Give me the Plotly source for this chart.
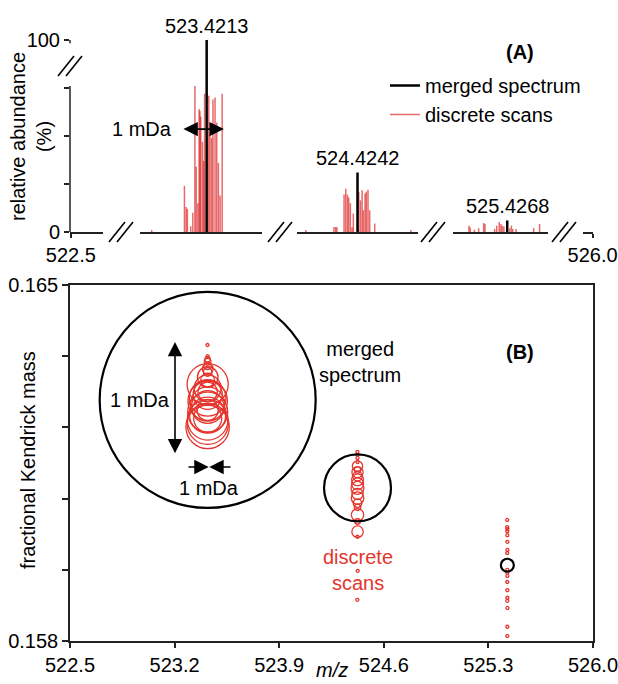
import plotly.graph_objects as go

# ---------------- data ----------------
merged_mz = [523.4213, 524.4242, 525.4268]
merged_abund = [100, 31, 6]
merged_fkm = [0.16274, 0.16101, 0.15949]

scan1_mz = [523.41999, 523.42077, 523.42081, 523.42084, 523.42092, 523.42097, 523.42102, 523.42105,
            523.42109, 523.42112, 523.42114, 523.42116, 523.42120, 523.42123, 523.42125, 523.42135,
            523.42138, 523.42142, 523.42145, 523.42150, 523.42154, 523.42158, 523.42162, 523.42167]
scan1_abund = [1, 24, 13, 12, 3, 10, 76, 34, 15, 64, 63, 60, 47, 37, 72, 71, 51, 49, 69, 70, 57, 36, 19, 72]
scan1_fkm = [0.16382, 0.16313, 0.16341, 0.16349, 0.16360, 0.16354, 0.16221, 0.16290, 0.16329, 0.16278,
             0.16244, 0.16266, 0.16297, 0.16254, 0.16305, 0.16235, 0.16284, 0.16238, 0.16272, 0.16250,
             0.16260, 0.16319, 0.16335, 0.16227]

scan2_mz = [524.42297, 524.42364, 524.42368, 524.42371, 524.42388, 524.42392, 524.42396, 524.42399,
            524.42403, 524.42407, 524.42410, 524.42423, 524.42427, 524.42431, 524.42434, 524.42438,
            524.42441, 524.42445, 524.42449, 524.42461, 524.42547]
scan2_abund = [1, 2.6, 2.6, 2.5, 19.5, 22.6, 19.5, 18, 15, 2.5, 9.6, 20.8, 16.5, 21.7, 11.3, 20, 21, 22,
               11.3, 4.4, 1]
scan2_fkm = [0.15881, 0.16172, 0.16166, 0.16160, 0.16089, 0.16101, 0.16132, 0.16144, 0.16071, 0.16005,
             0.16035, 0.16117, 0.16124, 0.16048, 0.16136, 0.16015, 0.16109, 0.16081, 0.16063, 0.16152,
             0.15938]

scan3_mz = [525.42589, 525.42592, 525.42602, 525.42612, 525.42624, 525.42627, 525.42650, 525.42655,
            525.42661, 525.42665, 525.42668, 525.42672, 525.42686, 525.42690, 525.42693, 525.42701,
            525.42743, 525.42757]
scan3_abund = [3.3, 2.4, 1.2, 2, 4.7, 4.2, 1.6, 3.3, 5.2, 4.2, 3.3, 3, 2, 3.3, 1.6, 1.6, 2, 4.2]
scan3_fkm = [0.16038, 0.15973, 0.16024, 0.15916, 0.15810, 0.16016, 0.15879, 0.15940, 0.15828, 0.16008,
             0.15934, 0.15995, 0.15900, 0.15928, 0.16020, 0.15885, 0.15979, 0.15865]

a_xends = [522.5, 526.0]
b_ticks = [522.5, 523.2, 523.9, 524.6, 525.3, 526.0]
b_yticks = [0.158, 0.1594, 0.1608, 0.1622, 0.1636, 0.165]
a_yticks = [0, 25, 50, 75, 100]

# ---------------- styling helpers ----------------
W, H = 618, 684
FONT = "Arial, 'Liberation Sans', sans-serif"
RED = "#e5352c"
RED_BAR = "rgba(220,25,25,0.65)"
AX = "#222222"


def px(x):
    return x / W


def py(y):
    return 1 - y / H


def sticks(mz, ab):
    xs, ys = [], []
    for m, a in zip(mz, ab):
        xs += [m, m, None]
        ys += [0, a, None]
    return xs, ys


fig = go.Figure()

# invisible anchors so the end pieces of the broken m/z axis get drawn
fig.add_trace(go.Scatter(x=[a_xends[0]], y=[a_yticks[0]], xaxis="x", yaxis="y", mode="markers",
                         marker=dict(opacity=0), showlegend=False, hoverinfo="skip"))
fig.add_trace(go.Scatter(x=[a_xends[1]], y=[a_yticks[0]], xaxis="x5", yaxis="y", mode="markers",
                         marker=dict(opacity=0), showlegend=False, hoverinfo="skip"))

scans = [(scan1_mz, scan1_abund, "x2"), (scan2_mz, scan2_abund, "x3"), (scan3_mz, scan3_abund, "x4")]
for i, (mz, ab, xa) in enumerate(scans):
    xs, ys = sticks(mz, ab)
    fig.add_trace(go.Scatter(x=xs, y=ys, mode="lines", xaxis=xa, yaxis="y",
                             line=dict(color=RED_BAR, width=1.5), name="discrete scans",
                             legendgroup="scan", showlegend=(i == 0), legendrank=2,
                             hoverinfo="skip"))
for i, xa in enumerate(["x2", "x3", "x4"]):
    xs, ys = sticks([merged_mz[i]], [merged_abund[i]])
    fig.add_trace(go.Scatter(x=xs, y=ys, mode="lines", xaxis=xa, yaxis="y",
                             line=dict(color="black", width=2.5), name="merged spectrum",
                             legendgroup="merged", showlegend=(i == 0), legendrank=1,
                             hoverinfo="skip"))

# Panel B
all_mz = scan1_mz + scan2_mz + scan3_mz
all_fkm = scan1_fkm + scan2_fkm + scan3_fkm
all_ab = scan1_abund + scan2_abund + scan3_abund
fig.add_trace(go.Scatter(x=all_mz, y=all_fkm, mode="markers", xaxis="x6", yaxis="y2",
                         marker=dict(symbol="circle-open", size=all_ab, sizemode="diameter",
                                     sizeref=1.75, sizemin=1.5, color=RED, opacity=1,
                                     line=dict(width=1.3)),
                         showlegend=False))
fig.add_trace(go.Scatter(x=merged_mz, y=merged_fkm, mode="markers", xaxis="x6", yaxis="y2",
                         marker=dict(symbol="circle-open", size=merged_abund, sizemode="diameter",
                                     sizeref=100 / 216, color="black", opacity=1,
                                     line=dict(width=2.2)),
                         showlegend=False))

seg_common = dict(anchor="y", showline=True, linecolor=AX, linewidth=1.5, showgrid=False,
                  zeroline=False, fixedrange=True, automargin=False, ticklabeloverflow="allow")
tickfont = dict(family=FONT, size=20, color="black")

layout = dict(
    template="none",
    width=W, height=H, autosize=False,
    margin=dict(l=0, r=0, t=0, b=0, pad=0),
    paper_bgcolor="white", plot_bgcolor="white",
    font=dict(family=FONT, size=20, color="black"),
    xaxis=dict(domain=[px(70), px(103)], range=[522.49998, 522.5008], tickvals=[a_xends[0]],
               ticktext=[f"{a_xends[0]:.1f}"], ticks="outside", ticklen=4, tickcolor=AX,
               tickwidth=1.5, tickfont=tickfont, **seg_common),
    xaxis2=dict(domain=[px(140), px(262)], range=[523.41971, 523.42262], showticklabels=False,
                ticks="", **seg_common),
    xaxis3=dict(domain=[px(297), px(418)], range=[524.42276, 524.42564], showticklabels=False,
                ticks="", **seg_common),
    xaxis4=dict(domain=[px(453), px(548)], range=[525.42551, 525.42777], showticklabels=False,
                ticks="", **seg_common),
    xaxis5=dict(domain=[px(583), px(593)], range=[525.99976, 526.00001], tickvals=[a_xends[1]],
                ticktext=[f"{a_xends[1]:.1f}"], ticks="outside", ticklen=4, tickcolor=AX,
                tickwidth=1.5, tickfont=tickfont, **seg_common),
    yaxis=dict(domain=[py(232), py(40)], range=[0, 100], anchor="x", showline=False,
               showgrid=False, zeroline=False, tickvals=a_yticks,
               ticktext=["0", "", "", "", "100"], ticks="outside", ticklen=5, tickcolor=AX,
               tickwidth=1.5, tickfont=tickfont, fixedrange=True, automargin=False,
               ticklabeloverflow="allow"),
    xaxis6=dict(domain=[px(70), px(593)], range=[522.5, 526.0], anchor="y2", showline=True,
                mirror=True, linecolor=AX, linewidth=1.5, showgrid=False, zeroline=False,
                tickvals=b_ticks, ticktext=[f"{v:.1f}" for v in b_ticks], ticks="outside",
                ticklen=5, tickcolor=AX, tickwidth=1.5, tickfont=tickfont, fixedrange=True,
                automargin=False, ticklabeloverflow="allow"),
    yaxis2=dict(domain=[py(641), py(285)], range=[0.158, 0.165], anchor="x6", showline=True,
                mirror=True, linecolor=AX, linewidth=1.5, showgrid=False, zeroline=False,
                tickvals=b_yticks, ticktext=["0.158", "", "", "", "", "0.165"], ticks="outside",
                ticklen=6, tickcolor=AX, tickwidth=1.5, tickfont=tickfont, fixedrange=True,
                automargin=False, ticklabeloverflow="allow"),
    legend=dict(x=px(385), y=py(66), xanchor="left", yanchor="top",
                font=dict(family=FONT, size=20, color="black"), bgcolor="rgba(0,0,0,0)",
                borderwidth=0, tracegroupgap=0),
    showlegend=True,
)

# axis line pieces for the broken y axis of panel A
shapes = [
    dict(type="line", xref="paper", yref="y", x0=px(70), x1=px(70), y0=0, y1=76,
         line=dict(color=AX, width=1.5)),
    dict(type="line", xref="paper", yref="y", x0=px(70), x1=px(70), y0=98.3, y1=100,
         line=dict(color=AX, width=1.5)),
]


def brk(cx, cy):
    out = []
    for off in (-4, 4):
        out.append(dict(type="line", xref="paper", yref="paper",
                        x0=px(cx + off - 8), y0=py(cy + 10), x1=px(cx + off + 8), y1=py(cy - 10),
                        line=dict(color="black", width=1.6)))
    return out


for c in [(70, 66), (121, 232), (280, 232), (433, 232), (564, 232)]:
    shapes += brk(*c)

ann = []


def txt(x, y, t, **kw):
    d = dict(x=px(x), y=py(y), xref="paper", yref="paper", text=t, showarrow=False,
             xanchor="center", yanchor="middle", font=dict(family=FONT, size=20, color="black"))
    d.update(kw)
    return d


# peak labels
for m, a, xa in zip(merged_mz, merged_abund, ["x2", "x3", "x4"]):
    ann.append(dict(x=m, y=a, xref=xa, yref="y", text=f"{m:.4f}", showarrow=False,
                    xanchor="center", yanchor="bottom", yshift=1,
                    font=dict(family=FONT, size=20, color="black")))

ann += [
    txt(520, 52, "<b>(A)</b>"),
    txt(520, 352, "<b>(B)</b>"),
    txt(31, 137, "relative abundance<br>(%)", textangle=-90),
    txt(28, 460, "fractional Kendrick mass", textangle=-90),
    txt(332, 670, "<i>m/z</i>"),
    txt(142, 129, "1 mDa"),
    txt(140, 400, "1 mDa"),
    txt(209, 488, "1 mDa"),
    txt(360, 362, "merged<br>spectrum"),
    txt(358, 570, "discrete<br>scans", font=dict(family=FONT, size=20, color=RED)),
]

arrow_style = dict(showarrow=True, arrowhead=2, arrowsize=1.8, arrowwidth=1.6, arrowcolor="black",
                   text="", standoff=0, startstandoff=0)
# panel A 1 mDa arrow
ann.append(dict(x=523.42171, y=53.6, ax=523.42071, ay=53.6, xref="x2", yref="y", axref="x2",
                ayref="y", arrowside="end+start", startarrowhead=2, startarrowsize=1.8, **arrow_style))
# panel B vertical arrow
ann.append(dict(x=523.2027, y=0.16388, ax=523.2027, ay=0.16166, xref="x6", yref="y2", axref="x6",
                ayref="y2", arrowside="end+start", startarrowhead=2, startarrowsize=1.8, **arrow_style))
# panel B inward arrows
ann.append(dict(x=523.428, y=0.161421, ax=523.283, ay=0.161421, xref="x6", yref="y2", axref="x6",
                ayref="y2", **arrow_style))
ann.append(dict(x=523.432, y=0.161421, ax=523.584, ay=0.161421, xref="x6", yref="y2", axref="x6",
                ayref="y2", **arrow_style))

layout["shapes"] = shapes
layout["annotations"] = ann
fig.update_layout(**layout)

fig.write_html("out.html", config={"displayModeBar": False},
               post_script="document.body.style.margin='0';")
